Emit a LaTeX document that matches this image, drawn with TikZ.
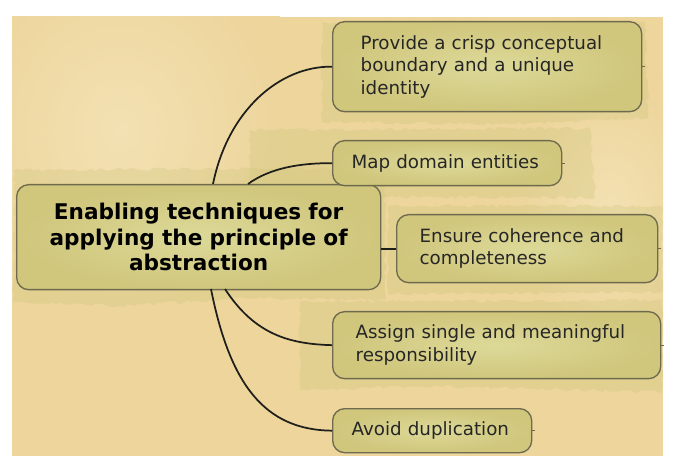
\documentclass[tikz,border=0pt]{standalone}
\usepackage{fontspec}
\setmainfont{DejaVu Sans}
\usetikzlibrary{decorations.pathmorphing}
\definecolor{panel}{HTML}{EDD59C}
\definecolor{panellight}{HTML}{F3E1B3}
\definecolor{blob}{HTML}{C9C477}
\definecolor{boxin}{HTML}{DCD998}
\definecolor{boxout}{HTML}{D0C67C}
\definecolor{boxline}{HTML}{6E6A4E}
\definecolor{wire}{HTML}{1E1E1A}
\tikzset{
  box/.style={draw=boxline, line width=1pt, rounded corners=9pt,
    inner color=boxin, outer color=boxout, anchor=north west,
    font=\fontsize{13.7}{16.9}\selectfont, text=black!85, align=left},
  hub/.style={box, align=center, inner xsep=0pt,
    font=\bfseries\fontsize{16.2}{19.1}\selectfont, text=black},
  wirestyle/.style={draw=wire, line width=1.3pt},
  stub/.style={draw=boxline, line width=0.8pt},
  glow/.style={inner color=panellight, outer color=panel},
  patch/.style={fill=blob, opacity=0.28,
    decorate, decoration={random steps, segment length=3pt, amplitude=1.2pt}}
}
\begin{document}
\begin{tikzpicture}[x=0.75pt,y=-0.75pt]
\useasboundingbox (0,0) rectangle (678,466);
\fill[white] (0,0) rectangle (678,466);
% panel
\begin{scope}
\clip (12,17) rectangle (663,456);
\fill[panel] (12,17) rectangle (663,456);
\shade[glow] (-40,-50) rectangle (280,310);
\shade[glow] (520,80) rectangle (700,340);
% green patches
\fill[patch] (14,170) -- (385,168) -- (385,300) -- (250,298) -- (120,306) -- (14,302) -- cycle;
\fill[patch] (322,22) -- (645,22) -- (648,118) -- (500,124) -- (322,122) -- cycle;
\fill[patch] (250,130) -- (590,128) -- (595,198) -- (250,196) -- cycle;
\fill[patch] (388,206) -- (662,206) -- (662,292) -- (388,294) -- cycle;
\fill[patch] (300,302) -- (662,300) -- (662,392) -- (420,386) -- (300,390) -- cycle;
\end{scope}
% nodes
\node[hub, minimum width=364pt*0.75, minimum height=105pt*0.75, text width=350pt*0.75]
  (hub) at (16,184) {Enabling techniques for\\applying the principle of\\abstraction};
\node[box, minimum width=309pt*0.75, minimum height=90pt*0.75, inner xsep=28pt*0.75, text width=253pt*0.75]
  (n1) at (332,21) {Provide a crisp conceptual\\boundary and a unique\\identity};
\node[box, minimum width=229pt*0.75, minimum height=45pt*0.75, inner xsep=19pt*0.75, text width=191pt*0.75]
  (n2) at (332,140) {Map domain entities};
\node[box, minimum width=261pt*0.75, minimum height=68pt*0.75, inner xsep=23pt*0.75, text width=215pt*0.75]
  (n3) at (396,214) {Ensure coherence and\\completeness};
\node[box, minimum width=328pt*0.75, minimum height=67pt*0.75, inner xsep=23pt*0.75, text width=282pt*0.75]
  (n4) at (332,311) {Assign single and meaningful\\responsibility};
\node[box, minimum width=199pt*0.75, minimum height=44pt*0.75, inner xsep=19pt*0.75, text width=161pt*0.75]
  (n5) at (332,408) {Avoid duplication};
% connectors
\coordinate (h1) at (213,184);
\coordinate (h2) at (248,184);
\coordinate (h4) at (225,289);
\coordinate (h5) at (211,289);
\draw[wirestyle] (h1) .. controls (228,110) and (280,66) .. (n1.west);
\draw[wirestyle] (h2) .. controls (270,168) and (300,163) .. (n2.west);
\draw[wirestyle] (hub.east |- n3.west) -- (n3.west);
\draw[wirestyle] (h4) .. controls (255,335) and (290,344) .. (n4.west);
\draw[wirestyle] (h5) .. controls (230,385) and (265,430) .. (n5.west);
% stubs
\foreach \n in {n1,n2,n3,n4,n5} \draw[stub] (\n.east) -- ++(3,0);
\end{tikzpicture}
\end{document}
